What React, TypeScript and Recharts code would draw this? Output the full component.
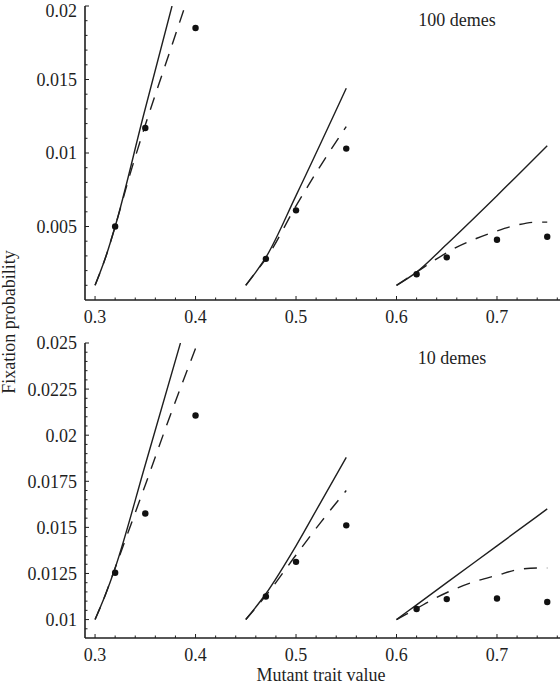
import React from 'react';
import { ComposedChart, Line, Scatter, XAxis, YAxis } from 'recharts';

// ---------- tick values ----------
const xTicks = [0.3, 0.32, 0.34, 0.36, 0.38, 0.4, 0.42, 0.44, 0.46, 0.48, 0.5, 0.52, 0.54, 0.56, 0.58, 0.6, 0.62, 0.64, 0.66, 0.68, 0.7, 0.72, 0.74, 0.76];
const xMajor = [0.3, 0.4, 0.5, 0.6, 0.7];
const xMajorLabels = ['0.3', '0.4', '0.5', '0.6', '0.7'];

const yTicksTop = [0.001, 0.002, 0.003, 0.004, 0.005, 0.006, 0.007, 0.008, 0.009, 0.01, 0.011, 0.012, 0.013, 0.014, 0.015, 0.016, 0.017, 0.018, 0.019, 0.02];
const yMajorTop = [0.005, 0.01, 0.015, 0.02];
const yMajorTopLabels = ['0.005', '0.01', '0.015', '0.02'];

const yTicksBottom = [0.0095, 0.01, 0.0105, 0.011, 0.0115, 0.012, 0.0125, 0.013, 0.0135, 0.014, 0.0145, 0.015, 0.0155, 0.016, 0.0165, 0.017, 0.0175, 0.018, 0.0185, 0.019, 0.0195, 0.02, 0.0205, 0.021, 0.0215, 0.022, 0.0225, 0.023, 0.0235, 0.024, 0.0245, 0.025];
const yMajorBottom = [0.01, 0.0125, 0.015, 0.0175, 0.02, 0.0225, 0.025];
const yMajorBottomLabels = ['0.01', '0.0125', '0.015', '0.0175', '0.02', '0.0225', '0.025'];

// ---------- 100 demes ----------
const solidA100 = [{ x: 0.3, y: 0.001 }, { x: 0.31, y: 0.0028 }, { x: 0.32, y: 0.005 }, { x: 0.348, y: 0.0125 }, { x: 0.3766, y: 0.02 }];
const dashA100 = [{ x: 0.3, y: 0.001 }, { x: 0.31, y: 0.0028 }, { x: 0.32, y: 0.005 }, { x: 0.335, y: 0.0086 }, { x: 0.35, y: 0.0119 }, { x: 0.37, y: 0.0160 }, { x: 0.3896, y: 0.02 }];
const dotsA100 = [{ x: 0.32, y: 0.005 }, { x: 0.35, y: 0.0117 }, { x: 0.4, y: 0.0185 }];

const solidB100 = [{ x: 0.45, y: 0.001 }, { x: 0.46, y: 0.0019 }, { x: 0.47, y: 0.0029 }, { x: 0.5, y: 0.0071 }, { x: 0.55, y: 0.0144 }];
const dashB100 = [{ x: 0.45, y: 0.001 }, { x: 0.46, y: 0.0019 }, { x: 0.47, y: 0.0028 }, { x: 0.5, y: 0.0064 }, { x: 0.525, y: 0.0092 }, { x: 0.55, y: 0.0118 }];
const dotsB100 = [{ x: 0.47, y: 0.0028 }, { x: 0.5, y: 0.0061 }, { x: 0.55, y: 0.0103 }];

const solidC100 = [{ x: 0.6, y: 0.001 }, { x: 0.62, y: 0.0019 }, { x: 0.65, y: 0.0038 }, { x: 0.7, y: 0.0071 }, { x: 0.75, y: 0.0105 }];
const dashC100 = [{ x: 0.6, y: 0.001 }, { x: 0.62, y: 0.0019 }, { x: 0.64, y: 0.0028 }, { x: 0.66, y: 0.0036 }, { x: 0.68, y: 0.0042 }, { x: 0.7, y: 0.0047 }, { x: 0.72, y: 0.0051 }, { x: 0.74, y: 0.0053 }, { x: 0.75, y: 0.0053 }];
const dotsC100 = [{ x: 0.62, y: 0.00175 }, { x: 0.65, y: 0.0029 }, { x: 0.7, y: 0.0041 }, { x: 0.75, y: 0.0043 }];

// ---------- 10 demes ----------
const solidA10 = [{ x: 0.3, y: 0.01 }, { x: 0.31, y: 0.0113 }, { x: 0.32, y: 0.0128 }, { x: 0.35, y: 0.0184 }, { x: 0.385, y: 0.025 }];
const dashA10 = [{ x: 0.3, y: 0.01 }, { x: 0.31, y: 0.0113 }, { x: 0.32, y: 0.0128 }, { x: 0.35, y: 0.0173 }, { x: 0.375, y: 0.0211 }, { x: 0.4, y: 0.0247 }];
const dotsA10 = [{ x: 0.32, y: 0.01254 }, { x: 0.35, y: 0.01575 }, { x: 0.4, y: 0.02107 }];

const solidB10 = [{ x: 0.45, y: 0.01 }, { x: 0.47, y: 0.0114 }, { x: 0.5, y: 0.014 }, { x: 0.525, y: 0.0164 }, { x: 0.55, y: 0.0188 }];
const dashB10 = [{ x: 0.45, y: 0.01 }, { x: 0.47, y: 0.0113 }, { x: 0.5, y: 0.0135 }, { x: 0.525, y: 0.0153 }, { x: 0.55, y: 0.017 }];
const dotsB10 = [{ x: 0.47, y: 0.01125 }, { x: 0.5, y: 0.01313 }, { x: 0.55, y: 0.01511 }];

const solidC10 = [{ x: 0.6, y: 0.01 }, { x: 0.62, y: 0.0108 }, { x: 0.65, y: 0.012 }, { x: 0.7, y: 0.014 }, { x: 0.75, y: 0.016 }];
const dashC10 = [{ x: 0.6, y: 0.01 }, { x: 0.62, y: 0.0106 }, { x: 0.64, y: 0.0112 }, { x: 0.66, y: 0.0117 }, { x: 0.68, y: 0.0121 }, { x: 0.7, y: 0.0124 }, { x: 0.72, y: 0.0127 }, { x: 0.74, y: 0.0128 }, { x: 0.75, y: 0.0128 }];
const dotsC10 = [{ x: 0.62, y: 0.01057 }, { x: 0.65, y: 0.01111 }, { x: 0.7, y: 0.01114 }, { x: 0.75, y: 0.01095 }];

const panelLabels = ['100 demes', '10 demes'];
const xAxisTitle = 'Mutant trait value';
const yAxisTitle = 'Fixation probability';

// ---------- styling ----------
const FONT = '"Liberation Serif", "Times New Roman", serif';
const INK = '#1f1f1f';
const AXIS_X = 85;
const X_DOMAIN: [number, number] = [0.29, 0.7627];

const findIdx = (arr: number[], v: number) => arr.findIndex((m) => Math.abs(m - v) < 1e-9);

const makeYTick = (majors: number[], labels: string[]) => (props: any) => {
  const { y, payload } = props;
  const idx = findIdx(majors, payload.value);
  const major = idx >= 0;
  const ty = Math.max(y, 10.5);
  return (
    <g>
      <line x1={AXIS_X} x2={AXIS_X + (major ? 4 : 2.5)} y1={y} y2={y} stroke={INK} strokeWidth={1} />
      {major && (
        <text x={AXIS_X - 8} y={ty} dy="0.36em" textAnchor="end" fontFamily={FONT} fontSize={18} fill={INK}>
          {labels[idx]}
        </text>
      )}
    </g>
  );
};

const makeXTick = (axisY: number) => (props: any) => {
  const { x, payload } = props;
  const idx = findIdx(xMajor, payload.value);
  const major = idx >= 0;
  return (
    <g>
      <line x1={x} x2={x} y1={axisY} y2={axisY - (major ? 4 : 2.5)} stroke={INK} strokeWidth={1} />
      {major && (
        <text x={x} y={axisY + 22.5} textAnchor="middle" fontFamily={FONT} fontSize={18} fill={INK}>
          {xMajorLabels[idx]}
        </text>
      )}
    </g>
  );
};

const Dot = (p: any) => <circle cx={p.cx} cy={p.cy} r={3.2} fill="#111" />;

const solidProps = { type: 'monotone' as const, dataKey: 'y', stroke: INK, strokeWidth: 1.4, dot: false, activeDot: false, isAnimationActive: false };
const dashProps = { ...solidProps, strokeDasharray: '13 10' };

type Pt = { x: number; y: number };

function Panel(props: {
  height: number; top: number; xHeight: number; domain: [number, number];
  yTicks: number[]; yMajor: number[]; yLabels: string[];
  solids: Pt[][]; dashes: Pt[][]; dots: Pt[][];
}) {
  const axisY = props.top + (props.height - props.top - props.xHeight);
  return (
    <ComposedChart width={560} height={props.height} margin={{ top: props.top, right: 0, bottom: 0, left: 0 }} style={{ display: 'block' }}>
      <XAxis
        type="number" dataKey="x" domain={X_DOMAIN} allowDataOverflow ticks={xTicks} interval={0}
        tick={makeXTick(axisY)} tickLine={false} height={props.xHeight}
        axisLine={{ stroke: INK, strokeWidth: 1.6 }}
      />
      <YAxis
        type="number" dataKey="y" domain={props.domain} allowDataOverflow ticks={props.yTicks} interval={0}
        tick={makeYTick(props.yMajor, props.yLabels)} tickLine={false} width={AXIS_X}
        axisLine={{ stroke: INK, strokeWidth: 1.6 }}
      />
      {props.solids.map((d, i) => <Line key={'s' + i} data={d} {...solidProps} />)}
      {props.dashes.map((d, i) => <Line key={'d' + i} data={d} {...dashProps} />)}
      {props.dots.map((d, i) => <Scatter key={'p' + i} data={d} dataKey="y" shape={Dot} isAnimationActive={false} />)}
    </ComposedChart>
  );
}

export default function App() {
  return (
    <div style={{ position: 'absolute', left: 0, top: 0, width: 560, height: 684, background: '#fff' }}>
      <Panel
        height={330} top={6} xHeight={30} domain={[0, 0.02]}
        yTicks={yTicksTop} yMajor={yMajorTop} yLabels={yMajorTopLabels}
        solids={[solidA100, solidB100, solidC100]} dashes={[dashA100, dashB100, dashC100]} dots={[dotsA100, dotsB100, dotsC100]}
      />
      <Panel
        height={354} top={13} xHeight={46} domain={[0.009, 0.025]}
        yTicks={yTicksBottom} yMajor={yMajorBottom} yLabels={yMajorBottomLabels}
        solids={[solidA10, solidB10, solidC10]} dashes={[dashA10, dashB10, dashC10]} dots={[dotsA10, dotsB10, dotsC10]}
      />
      <svg width={560} height={684} style={{ position: 'absolute', left: 0, top: 0, pointerEvents: 'none' }}>
        <text x={457} y={26} textAnchor="middle" fontFamily={FONT} fontSize={18} fill={INK}>{panelLabels[0]}</text>
        <text x={452} y={364} textAnchor="middle" fontFamily={FONT} fontSize={18} fill={INK}>{panelLabels[1]}</text>
        <text x={321} y={681} textAnchor="middle" fontFamily={FONT} fontSize={18} fill={INK}>{xAxisTitle}</text>
        <text x={15} y={322} textAnchor="middle" fontFamily={FONT} fontSize={18} fill={INK} transform="rotate(-90 15 322)">{yAxisTitle}</text>
      </svg>
    </div>
  );
}
